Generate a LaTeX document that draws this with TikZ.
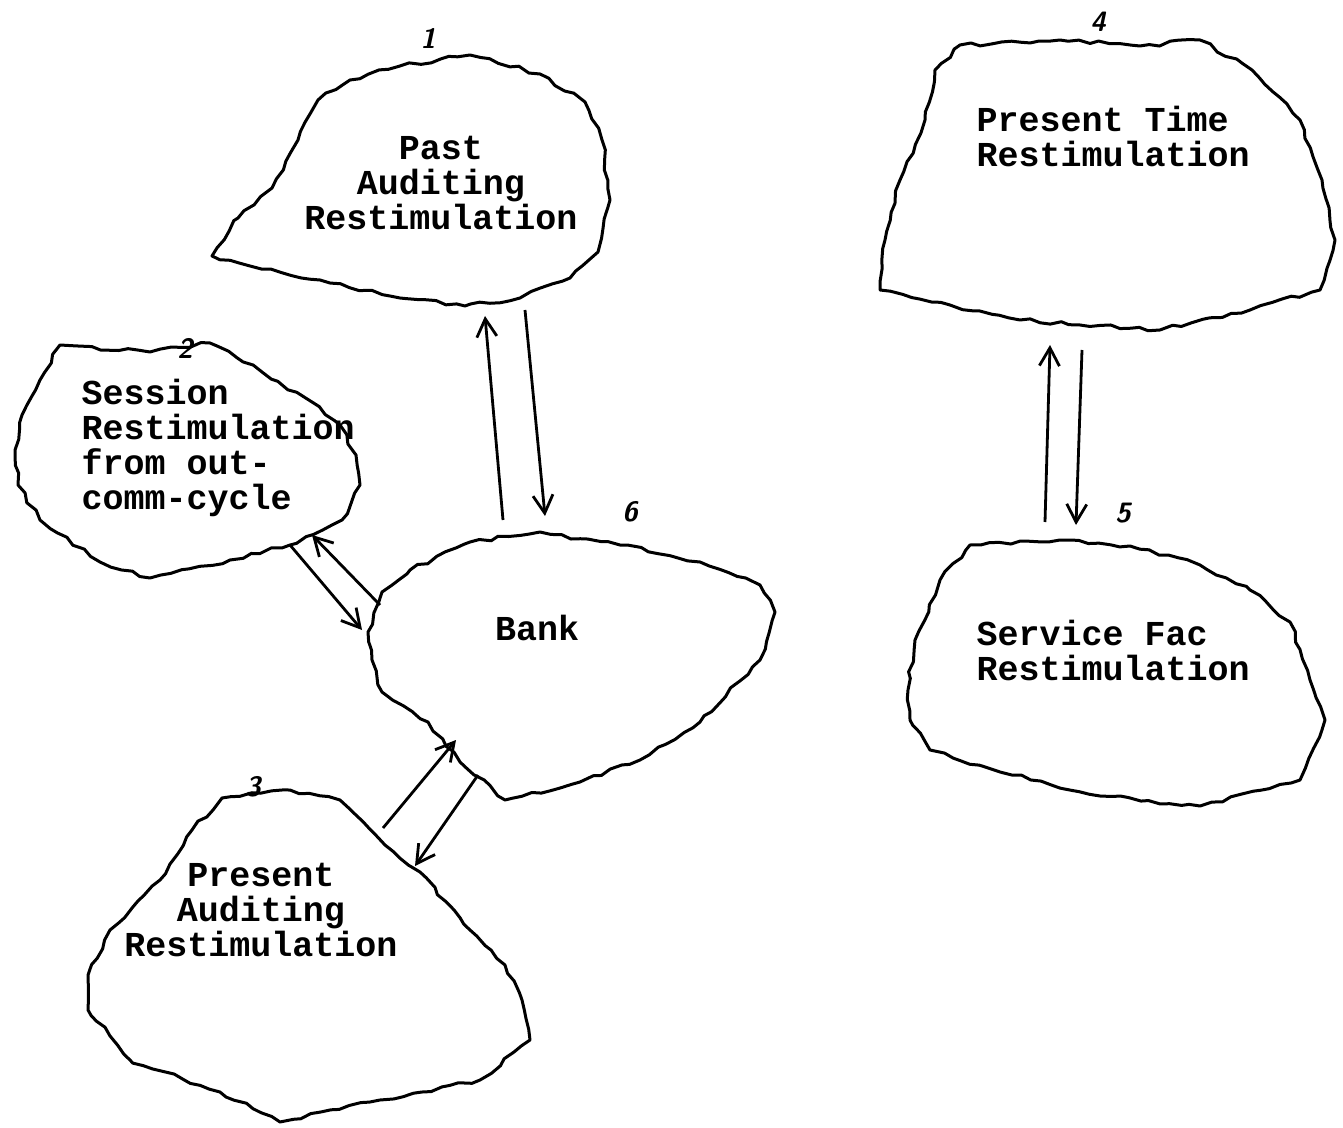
\documentclass[tikz,border=0pt]{standalone}
\usepackage{fontspec}
\setmonofont{Liberation Mono}
\usetikzlibrary{arrows.meta,decorations.pathmorphing}
\pgfmathsetseed{7}
\begin{document}
\begin{tikzpicture}[x=0.5pt, y=-0.5pt, line width=1.5pt,
		blob/.style={decorate, decoration={random steps, segment length=5pt, amplitude=1pt}, line join=round},
		lbl/.style={font=\fontsize{17.5}{17.5}\selectfont\ttfamily\bfseries, inner sep=0pt},
		num/.style={font=\fontsize{14}{14}\selectfont\sffamily\bfseries\itshape, inner sep=0pt},
		arr/.style={-{Straight Barb[length=9pt, width=10pt]}, line width=1.4pt}]
		\useasboundingbox (0,0) rectangle (1343,1128);
		\draw[blob] (212,256) -- (238,218) -- (272,188) -- (298,140) -- (318,100) -- (350,80) -- (400,66) -- (470,55) -- (540,74) -- (585,102) -- (602,140) -- (610,200) -- (598,252) -- (570,278) -- (520,298) -- (465,306) -- (400,298) -- (320,280) -- (250,266) -- cycle;
		\draw[blob] (60,345) -- (150,352) -- (210,343) -- (262,372) -- (312,402) -- (340,425) -- (356,455) -- (360,485) -- (342,520) -- (290,545) -- (230,560) -- (150,578) -- (100,562) -- (40,520) -- (18,485) -- (15,450) -- (22,415) -- (40,380) -- cycle;
		\draw[blob] (410,570) -- (470,542) -- (540,532) -- (620,545) -- (700,562) -- (760,585) -- (775,612) -- (760,660) -- (700,722) -- (640,760) -- (580,782) -- (505,800) -- (460,762) -- (428,722) -- (382,692) -- (372,660) -- (368,632) -- (382,592) -- cycle;
		\draw[blob] (222,798) -- (290,790) -- (340,800) -- (385,845) -- (420,872) -- (470,930) -- (505,965) -- (522,1000) -- (530,1040) -- (480,1080) -- (380,1100) -- (280,1122) -- (220,1092) -- (130,1060) -- (88,1010) -- (88,975) -- (110,930) -- (160,880) -- (192,830) -- cycle;
		\draw[blob] (960,45) -- (1060,40) -- (1140,46) -- (1200,40) -- (1252,70) -- (1300,120) -- (1322,180) -- (1335,240) -- (1320,290) -- (1250,310) -- (1160,330) -- (1080,325) -- (1020,320) -- (950,305) -- (880,290) -- (885,240) -- (900,180) -- (925,120) -- (935,70) -- cycle;
		\draw[blob] (970,545) -- (1060,540) -- (1130,546) -- (1200,565) -- (1250,590) -- (1290,622) -- (1310,680) -- (1325,720) -- (1300,780) -- (1200,806) -- (1100,796) -- (1000,772) -- (930,750) -- (910,720) -- (908,690) -- (915,640) -- (940,580) -- cycle;
		\node[lbl, align=center] (past) at (441,183) {Past\\Auditing\\Restimulation};
		\node[lbl, align=left, anchor=west] (session) at (80,448) {Session\\Restimulation\\from out-\\comm-cycle};
		\node[lbl] (bank) at (537,628) {Bank};
		\node[lbl, align=center] (presaud) at (261,910) {Present\\Auditing\\Restimulation};
		\node[lbl, align=left, anchor=west] (prestime) at (975,136) {Present Time\\Restimulation};
		\node[lbl, align=left, anchor=west] (service) at (975,650) {Service Fac\\Restimulation};
		\node[num] (n1) at (428,38) {1};
		\node[num] (n2) at (185,348) {2};
		\node[num] (n3) at (253,787) {3};
		\node[num] (n4) at (1098,22) {4};
		\node[num] (n5) at (1123,513) {5};
		\node[num] (n6) at (630,512) {6};
		\coordinate (bup) at (503,520);
		\coordinate (pastlo) at (485,316);
		\coordinate (pastdn) at (525,310);
		\coordinate (btop) at (545,516);
		\coordinate (sesslo) at (290,545);
		\coordinate (bleft) at (362,630);
		\coordinate (bleft2) at (380,605);
		\coordinate (sessdn) at (312,535);
		\coordinate (pastop) at (383,828);
		\coordinate (bbot) at (456,740);
		\coordinate (bbot2) at (478,775);
		\coordinate (presup) at (415,866);
		\coordinate (servup) at (1045,522);
		\coordinate (timelo) at (1050,345);
		\coordinate (timedn) at (1082,350);
		\coordinate (servtop) at (1076,525);
		\draw[arr] (bup)--(pastlo);
		\draw[arr] (pastdn)--(btop);
		\draw[arr] (sesslo)--(bleft);
		\draw[arr] (bleft2)--(sessdn);
		\draw[arr] (pastop)--(bbot);
		\draw[arr] (bbot2)--(presup);
		\draw[arr] (servup)--(timelo);
		\draw[arr] (timedn)--(servtop);
\end{tikzpicture}
\end{document}
